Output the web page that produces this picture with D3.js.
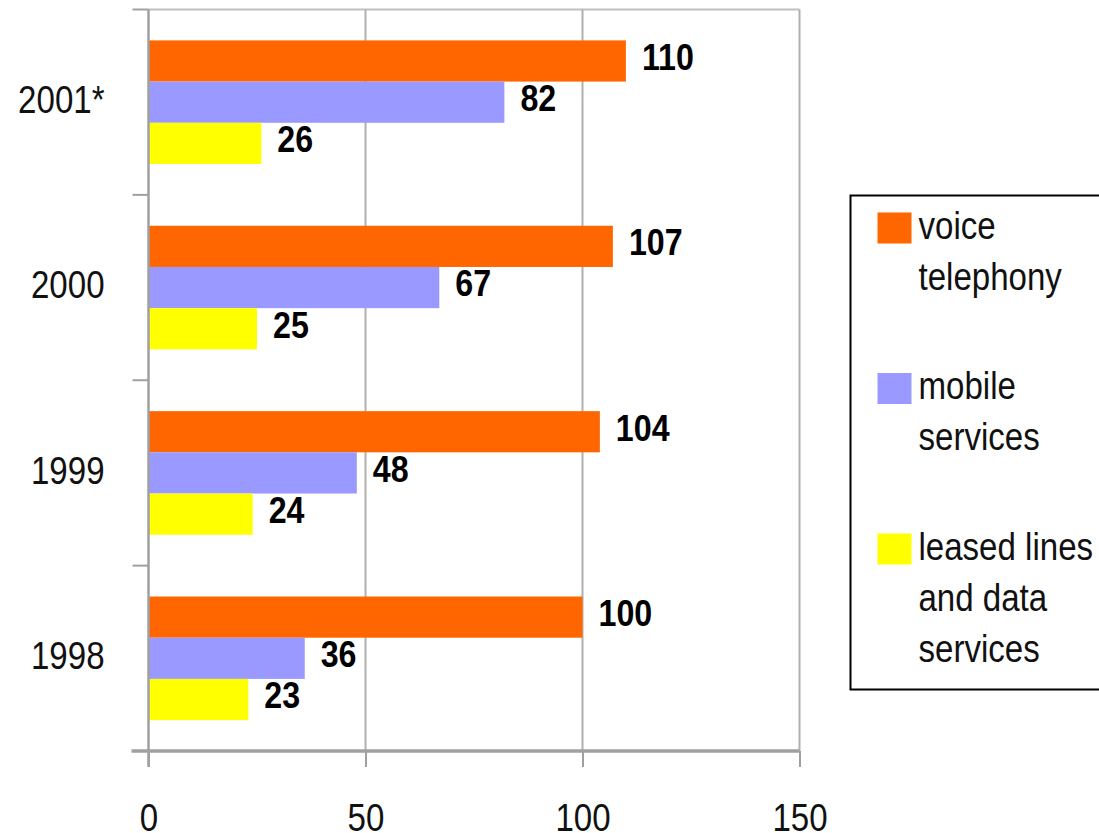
<!DOCTYPE html>
<html>
<head>
  <meta charset="utf-8">
  <script src="https://d3js.org/d3.v7.min.js"></script>
  <style>
  body{
    margin:0;
    background:#fff;
  }
  .tick text{
    font-family:"Liberation Sans",sans-serif;
    font-size:38px;
    fill:#111;
  }
  .val{
    font-family:"Liberation Sans",sans-serif;
    font-weight:bold;
    font-size:37px;
    fill:#000;
  }
  .leg{
    font-family:"Liberation Sans",sans-serif;
    font-size:38px;
    fill:#111;
  }
  </style>
</head>
<body>
  <svg width="1099" height="833"></svg>
<script>
  var years = ["2001*", "2000", "1999", "1998"];
  var seriesNames = ["voice telephony", "mobile services", "leased lines and data services"];
  var legendLines = [["voice", "telephony"], ["mobile", "services"], ["leased lines", "and data", "services"]];
  var colors = ["#ff6600", "#9999ff", "#ffff00"];
  var voice = [110, 107, 104, 100];
  var mobile = [82, 67, 48, 36];
  var leased = [26, 25, 24, 23];
  var xTicks = [0, 50, 100, 150];

  var narrow = 0.87; // squeeze text, no narrow font installed

  var svg = d3.select("svg"),
      margin = {top:9.5, left:148.5},
      width = 799.5 - margin.left,
      height = 751 - margin.top;

  var x = d3.scaleLinear().domain([0, 150]).range([0, width]),
      y = d3.scaleBand().domain(years).range([0, height]),
      ys = d3.scaleBand().domain(seriesNames).range([0, y.bandwidth()]).paddingOuter(0.75);

  function squeeze(sel){
    sel.each(function(){
      var t = d3.select(this);
      var x0 = +t.attr("x") || 0;
      t.attr("x", x0 / narrow).attr("transform", "scale(" + narrow + ",1)");
    });
  }

  var g = svg.append("g")
    .attr("transform", "translate(" + margin.left + "," + margin.top + ")");

  // top border + grid
  g.append("line")
    .attr("x1", 0).attr("x2", width)
    .attr("y1", 0).attr("y2", 0)
    .attr("stroke", "#c0c0c0").attr("stroke-width", 2);

  g.selectAll(".grid")
    .data(xTicks.slice(1))
    .enter().append("line")
    .attr("class", "grid")
    .attr("x1", function(d){ return x(d); })
    .attr("x2", function(d){ return x(d); })
    .attr("y1", 0).attr("y2", height)
    .attr("stroke", "#b0b0b0").attr("stroke-width", 2);

  // bars
  var rows = years.map(function(yr, i){
    return {year: yr, values: [voice[i], mobile[i], leased[i]]};
  });

  var grp = g.selectAll(".grp")
    .data(rows)
    .enter().append("g")
    .attr("class", "grp")
    .attr("transform", function(d){ return "translate(0," + y(d.year) + ")"; });

  grp.selectAll("rect")
    .data(function(d){ return d.values.map(function(v, j){ return {s: seriesNames[j], v: v, c: colors[j]}; }); })
    .enter().append("rect")
    .attr("x", 0)
    .attr("y", function(d){ return ys(d.s); })
    .attr("width", function(d){ return x(d.v); })
    .attr("height", ys.bandwidth())
    .attr("fill", function(d){ return d.c; });

  grp.selectAll(".val")
    .data(function(d){ return d.values.map(function(v, j){ return {s: seriesNames[j], v: v}; }); })
    .enter().append("text")
    .attr("class", "val")
    .attr("x", function(d){ return x(d.v) + 16; })
    .attr("y", function(d){ return ys(d.s) + ys.bandwidth() / 2 - 4; })
    .attr("dominant-baseline", "central")
    .text(function(d){ return d.v; })
    .call(squeeze);

  // axes
  var yAxis = g.append("g")
    .call(d3.axisLeft(y).tickSize(0).tickPadding(44))
    .call(function(a){ a.select(".domain").remove(); });
  yAxis.selectAll(".tick text").attr("dy", "0.28em").call(squeeze);

  g.selectAll(".ytick")
    .data(d3.range(years.length + 1))
    .enter().append("line")
    .attr("class", "ytick")
    .attr("x1", -16).attr("x2", 0)
    .attr("y1", function(d){ return d * y.step(); })
    .attr("y2", function(d){ return d * y.step(); })
    .attr("stroke", "#a0a0a0").attr("stroke-width", 2);

  g.append("line")
    .attr("x1", 0).attr("x2", 0)
    .attr("y1", 0).attr("y2", height + 16)
    .attr("stroke", "#a0a0a0").attr("stroke-width", 2.5);

  var xAxis = g.append("g")
    .attr("transform", "translate(0," + height + ")")
    .call(d3.axisBottom(x).tickValues(xTicks).tickSize(16).tickPadding(38));
  xAxis.select(".domain").remove();
  xAxis.selectAll(".tick line").attr("stroke", "#a0a0a0").attr("stroke-width", 2);
  xAxis.selectAll(".tick text").attr("dy", "0.68em").call(squeeze);
  xAxis.append("line")
    .attr("x1", -17).attr("x2", width)
    .attr("y1", 0).attr("y2", 0)
    .attr("stroke", "#a0a0a0").attr("stroke-width", 3.5);

  // legend
  var legend = svg.append("g").attr("transform", "translate(850.5,195.5)");
  legend.append("rect")
    .attr("x", 0).attr("y", 0)
    .attr("width", 270).attr("height", 494)
    .attr("fill", "none").attr("stroke", "#000").attr("stroke-width", 2);

  var item = legend.selectAll(".item")
    .data(legendLines)
    .enter().append("g")
    .attr("class", "item")
    .attr("transform", function(d, i){ return "translate(27," + (17 + i * 160.5) + ")"; });

  item.append("rect")
    .attr("width", 34).attr("height", 31)
    .attr("fill", function(d, i){ return colors[i]; });

  item.selectAll("text")
    .data(function(d){ return d; })
    .enter().append("text")
    .attr("class", "leg")
    .attr("x", 41)
    .attr("y", function(d, k){ return 26 + k * 51.5; })
    .text(function(d){ return d; })
    .call(squeeze);
</script>
</body>
</html>
